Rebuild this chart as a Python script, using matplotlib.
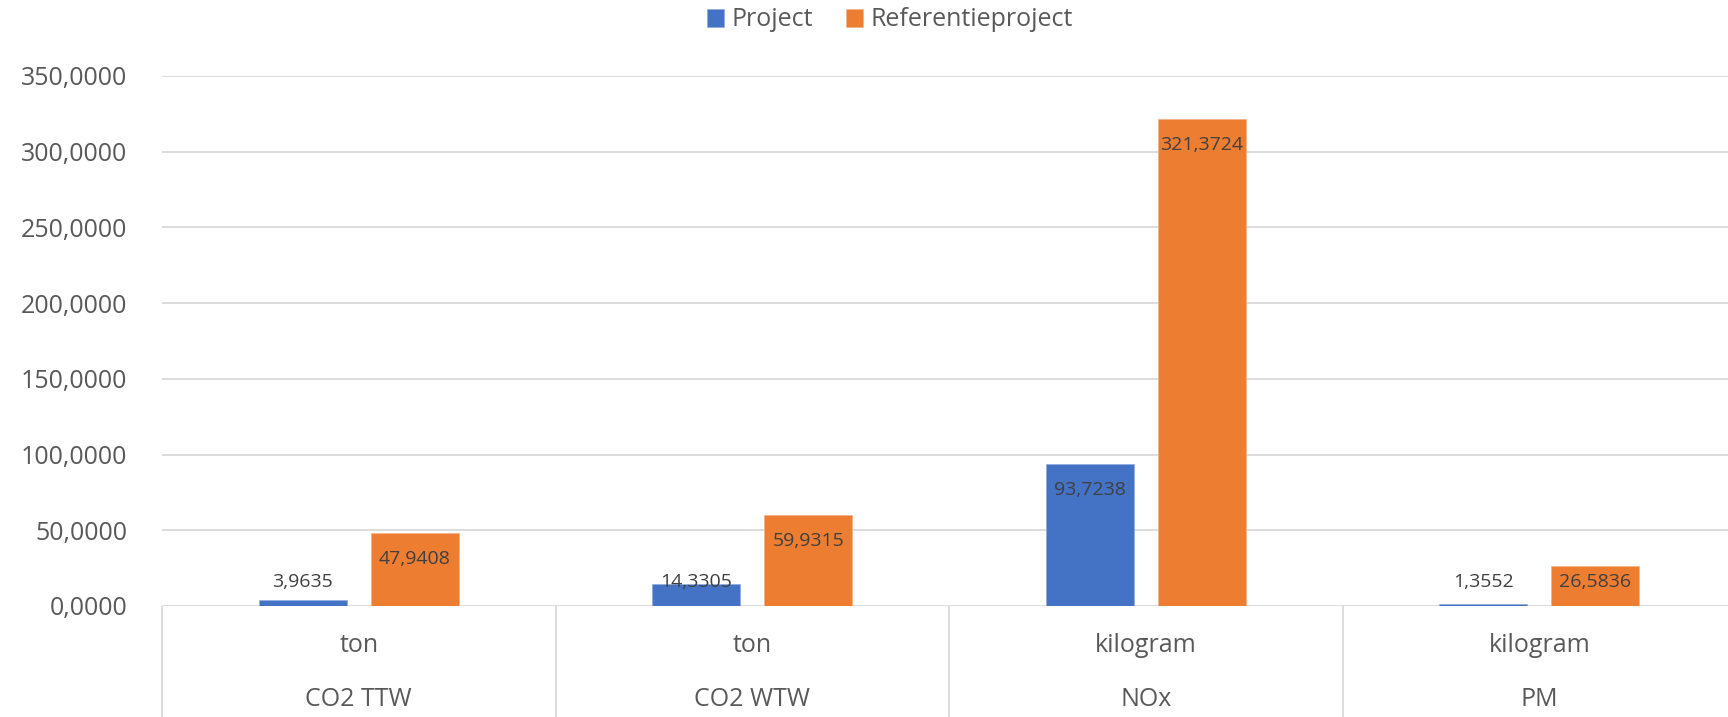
import matplotlib
matplotlib.use("Agg")
import matplotlib.pyplot as plt
import numpy as np

# data
categories = ["CO2 TTW", "CO2 WTW", "NOx", "PM"]
units = ["ton", "ton", "kilogram", "kilogram"]
project = [3.9635, 14.3305, 93.7238, 1.3552]
referentie = [47.9408, 59.9315, 321.3724, 26.5836]
series_names = ["Project", "Referentieproject"]
yticks = [0, 50, 100, 150, 200, 250, 300, 350]

blue = "#4472C4"
orange = "#ED7D31"
grid_c = "#D9D9D9"
text_c = "#595959"
label_c = "#404040"

plt.rcParams['font.family'] = ['Open Sans', 'DejaVu Sans']


def nl(v):
    return f"{v:.4f}".replace(".", ",")


fig = plt.figure(figsize=(17.28, 7.17), dpi=100)
# plot area in pixels: x 162..1736, y 76..606 (of 717)
ax = fig.add_axes([162 / 1728, (717 - 606) / 717, (1736 - 162) / 1728, 530 / 717])

x = np.arange(len(categories))
w = 0.224
off = 0.1425
b1 = ax.bar(x - off, project, w, color=blue, edgecolor="#8FAADC", linewidth=0.5, zorder=3,
            label=series_names[0])
b2 = ax.bar(x + off, referentie, w, color=orange, edgecolor="#F4B183", linewidth=0.5, zorder=3,
            label=series_names[1])

ax.set_xlim(-0.5, len(categories) - 0.5)
ax.set_ylim(0, 350)
ax.set_yticks(yticks)
ax.set_yticklabels([nl(t) for t in yticks])
ax.tick_params(axis="y", length=0, pad=25, labelsize=18, labelcolor=text_c)
ax.set_xticks([])
ax.grid(axis="y", color=grid_c, linewidth=1.3, zorder=0)
ax.set_axisbelow(True)
for s in ax.spines.values():
    s.set_visible(False)

# data labels: inside end, but kept above the axis for small bars
px_per_unit = 530 / 350
for xs, vals in ((x - off, project), (x + off, referentie)):
    for xi, v in zip(xs, vals):
        yc = max(v - 26 / px_per_unit, 24 / px_per_unit)
        ax.text(xi, yc, nl(v), ha="center", va="center", fontsize=14, color=label_c, zorder=4)

# multi-level category axis box
xt = ax.get_xaxis_transform()
ax.vlines(np.arange(len(categories) + 1) - 0.5, 0, -0.25, transform=xt, colors=grid_c,
          linewidth=1.3, clip_on=False)
for xi, u, c in zip(x, units, categories):
    ax.text(xi, -0.0736, u, transform=xt, ha="center", va="center", fontsize=18, color=text_c)
    ax.text(xi, -0.177, c, transform=xt, ha="center", va="center", fontsize=18, color=text_c)

fig.legend(handles=[b1, b2], loc="center", bbox_to_anchor=(890 / 1728, 1 - 20 / 717),
           ncol=2, frameon=False, fontsize=18, labelcolor=text_c, handlelength=0.7,
           handleheight=0.7, handletextpad=0.3, columnspacing=1.3, borderpad=0)

fig.savefig("out.png", dpi=100)
